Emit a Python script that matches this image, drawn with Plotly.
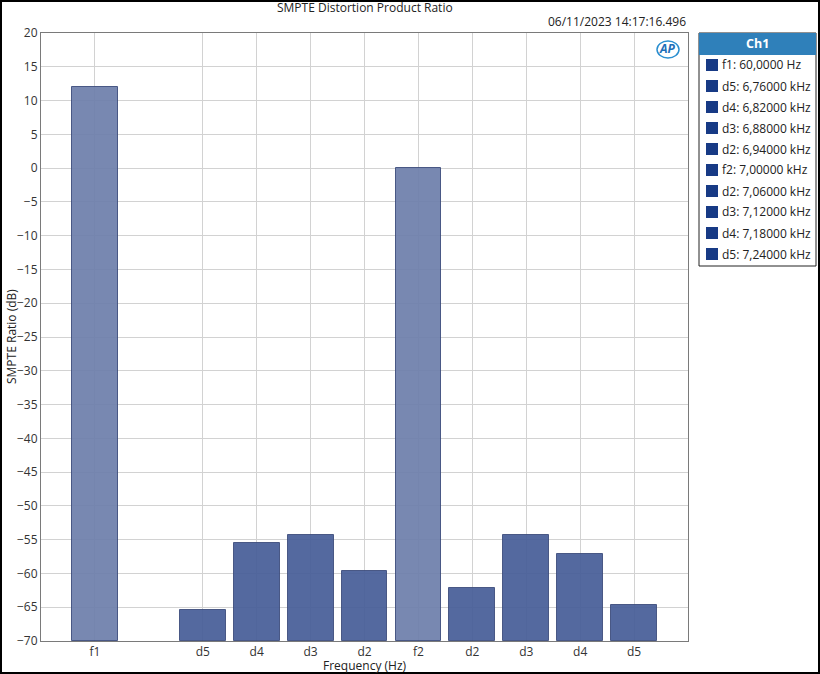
import plotly.graph_objects as go

# ---- data ----
labels = ["f1", "", "d5", "d4", "d3", "d2", "f2", "d2", "d3", "d4", "d5"]
values = [12.0, None, -65.4, -55.5, -54.3, -59.6, 0.0, -62.1, -54.3, -57.1, -64.7]
is_fundamental = [True, False, False, False, False, False, True, False, False, False, False]
legend_labels = [
    "f1: 60,0000 Hz", "d5: 6,76000 kHz", "d4: 6,82000 kHz", "d3: 6,88000 kHz",
    "d2: 6,94000 kHz", "f2: 7,00000 kHz", "d2: 7,06000 kHz", "d3: 7,12000 kHz",
    "d4: 7,18000 kHz", "d5: 7,24000 kHz",
]
y_ticks = list(range(-70, 21, 5))

FONT = "Open Sans"
FS = 12
W, H = 820, 674
L, R, T, B = 41, 132, 33, 33

xs, ys, cols = [], [], []
for i, (lab, v, fund) in enumerate(zip(labels, values, is_fundamental)):
    if v is None:
        continue
    xs.append(i + 1)
    ys.append(v)
    cols.append("#6e80ac" if fund else "#485e98")

base = -70
fig = go.Figure()
fig.add_trace(go.Bar(
    x=xs, y=[y - base for y in ys], base=base, width=0.85,
    marker=dict(color=cols, opacity=0.93, line=dict(color="#3c4c7c", width=1)),
    showlegend=False, hoverinfo="skip",
))

tickpos = [i + 1 for i, v in enumerate(values) if v is not None]
ticklab = [labels[i] for i, v in enumerate(values) if v is not None]

fig.update_layout(
    width=W, height=H,
    margin=dict(l=L, r=R, t=T, b=B, pad=0),
    paper_bgcolor="white", plot_bgcolor="white",
    font=dict(family=FONT, size=FS, color="#222222"),
    showlegend=False,
    bargap=0,
)
fig.update_xaxes(
    range=[0, len(labels) + 1], tickmode="array", tickvals=tickpos, ticktext=ticklab,
    showgrid=True, gridcolor="#d2d2d2", gridwidth=1,
    showline=True, linecolor="#7a7a7a", linewidth=1, mirror=True,
    ticks="", ticklen=0, tickfont=dict(size=FS, family=FONT, color="#333"),
    zeroline=False, automargin=False,
)
fig.update_yaxes(
    range=[-70, 20], tickmode="array", tickvals=y_ticks,
    showgrid=True, gridcolor="#d2d2d2", gridwidth=1,
    showline=True, linecolor="#7a7a7a", linewidth=1, mirror=True,
    ticks="", ticklen=0, tickfont=dict(size=FS, family=FONT, color="#333"),
    zeroline=False, automargin=False,
)

ann = []
shapes = []
pw, ph = W - L - R, H - T - B


def px(x):
    return (x - L) / pw


def py(y):
    return 1 - (y - T) / ph


# outer border
shapes.append(dict(type="rect", xref="paper", yref="paper", x0=px(1), x1=px(819),
                   y0=py(673), y1=py(1), line=dict(color="black", width=2)))

ann.append(dict(text="SMPTE Distortion Product Ratio", xref="paper", yref="paper",
                x=px(365), y=py(8), showarrow=False, font=dict(size=FS, color="#222"),
                xanchor="center", yanchor="middle"))
ann.append(dict(text="06/11/2023 14:17:16.496", xref="paper", yref="paper",
                x=px(688), y=py(22), showarrow=False, font=dict(size=FS, color="#222"),
                xanchor="right", yanchor="middle"))
ann.append(dict(text="Frequency (Hz)", xref="paper", yref="paper",
                x=px(365), y=py(665), showarrow=False, font=dict(size=FS, color="#222"),
                xanchor="center", yanchor="middle"))
ann.append(dict(text="SMPTE Ratio (dB)", xref="paper", yref="paper",
                x=px(11), y=py(337), showarrow=False, font=dict(size=FS, color="#222"),
                xanchor="center", yanchor="middle", textangle=-90))
# AP logo
shapes.append(dict(type="circle", xref="paper", yref="paper", x0=px(657), x1=px(679),
                   y0=py(58), y1=py(41), line=dict(color="#2a8fd0", width=1.5)))
ann.append(dict(text="<b><i>AP</i></b>", xref="paper", yref="paper", x=px(667), y=py(49),
                showarrow=False, font=dict(size=12, color="#1f6fb8"),
                xanchor="center", yanchor="middle"))

# legend box
lx0, lx1, ly0, ly1 = 699, 816, 33, 266
shapes.append(dict(type="rect", xref="paper", yref="paper", x0=px(lx0), x1=px(lx1),
                   y0=py(ly1), y1=py(ly0), line=dict(color="#222", width=1), fillcolor="white"))
shapes.append(dict(type="rect", xref="paper", yref="paper", x0=px(lx0), x1=px(lx1),
                   y0=py(55), y1=py(ly0), line=dict(width=0), fillcolor="#2f80ba"))
ann.append(dict(text="<b>Ch1</b>", xref="paper", yref="paper", x=px((lx0 + lx1) / 2), y=py(44),
                showarrow=False, font=dict(size=12.5, color="white"),
                xanchor="center", yanchor="middle"))
for k, t in enumerate(legend_labels):
    yc = 65 + 21 * k
    shapes.append(dict(type="rect", xref="paper", yref="paper", x0=px(706), x1=px(718),
                       y0=py(yc + 6), y1=py(yc - 6), line=dict(width=0), fillcolor="#173a85"))
    ann.append(dict(text=t, xref="paper", yref="paper", x=px(720), y=py(yc),
                    showarrow=False, font=dict(size=FS, color="#222"),
                    xanchor="left", yanchor="middle"))

fig.update_layout(annotations=ann, shapes=shapes)
fig.write_html("out.html", config={"displayModeBar": False},
               post_script="document.body.style.margin='0';document.body.style.padding='0';")
